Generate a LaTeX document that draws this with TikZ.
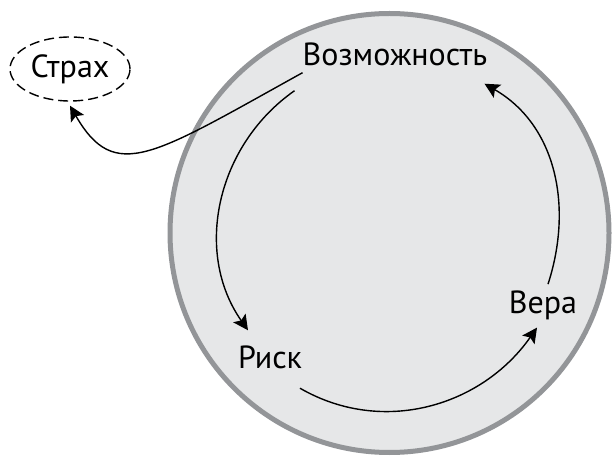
\documentclass[tikz,border=0pt]{standalone}
\usepackage{fontspec}
\setmainfont{PT Sans}
\usetikzlibrary{arrows.meta,shapes.geometric}
\definecolor{krugfill}{RGB}{230,231,232}
\definecolor{krugline}{RGB}{147,149,152}
\begin{document}
\begin{tikzpicture}[x=1pt,y=1pt,
  lbl/.style={font=\fontsize{32}{32}\selectfont, inner sep=0pt},
  potok/.style={-{Stealth[length=15pt,width=15pt,inset=3pt]}, line width=1.4pt},
  strah/.style={lbl, draw, ellipse, dash pattern=on 10pt off 5pt, line width=1.4pt,
    minimum width=120pt, minimum height=64pt}
]
\useasboundingbox (0,0) rectangle (612,455);

% Большой круг
\draw[krugline, fill=krugfill, line width=5pt] (389.5,222) circle (219.5);

% Подписи
\node[lbl] (vozm) at (395,401) {Возможность};
\node[lbl] (risk) at (270,98) {Риск};
\node[lbl, anchor=base] (vera) at (543,142) {Вера};
\node[strah] (strax) at (70,386) {Страх};

% Цикл
\draw[potok] ([shift={(-8pt,-25pt)}]vozm.south west) to[out=215,in=125] ([shift={(-22pt,15pt)}]risk.north);
\draw[potok] ([shift={(30pt,-19.5pt)}]risk.south) to[out=330,in=235] ([shift={(-6pt,-8pt)}]vera.south);
\draw[potok] ([shift={(5pt,6pt)}]vera.north) to[out=72,in=330] ([shift={(-3pt,-18pt)}]vozm.south east);

% Выход к страху
\draw[potok] ([shift={(0pt,-7pt)}]vozm.south west) .. controls +(-150,-83) and +(45,-78) .. ([yshift=-4pt]strax.south);

\end{tikzpicture}
\end{document}
